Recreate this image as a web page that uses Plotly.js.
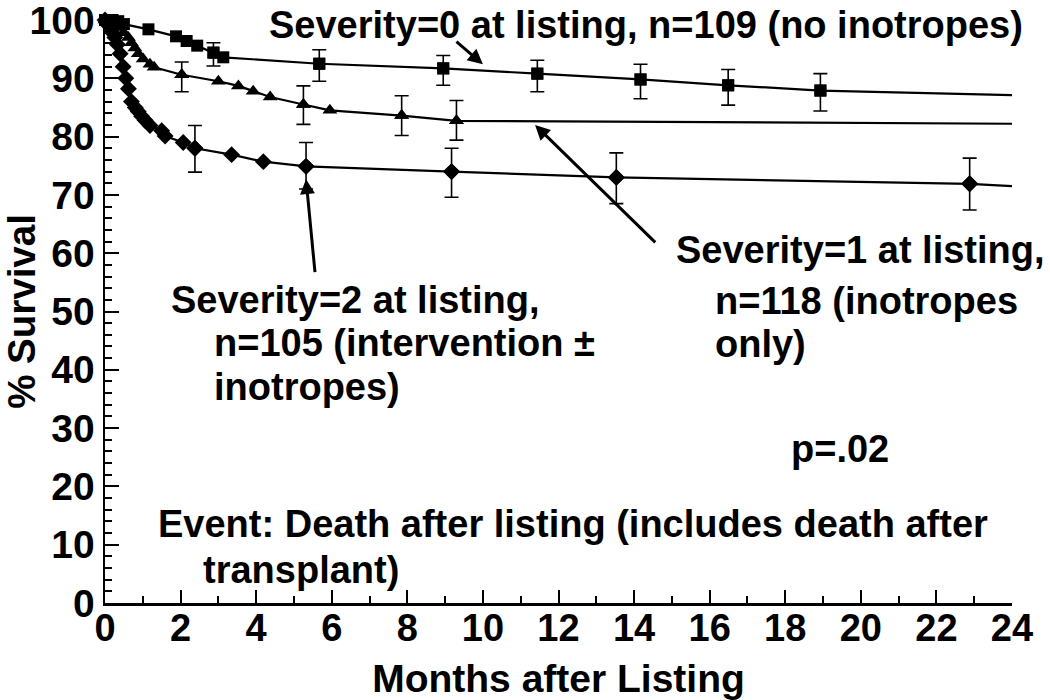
<!DOCTYPE html>
<html>
<head>
<meta charset="utf-8">
<script src="https://cdn.plot.ly/plotly-3.0.1.min.js"></script>
<style>html,body{margin:0;padding:0;background:#fff;}#chart{width:1050px;height:700px;}</style>
</head>
<body>
<div id="chart"></div>
<script>
// ---- Data (months after listing, % survival) ----
// Severity=0 (squares)
const sev0Months   = [0, 0.08, 0.2, 0.35, 0.5, 1.15, 1.88, 2.16, 2.44, 2.87, 3.13, 5.67, 8.95, 11.44, 14.17, 16.49, 18.93, 24];
const sev0Survival = [100, 100, 100, 99.8, 99.3, 98.4, 97.2, 96.4, 95.6, 94.4, 93.6, 92.5, 91.7, 90.8, 89.8, 88.8, 87.9, 87.1];
const sev0CiMonths = [2.87, 5.67, 8.95, 11.44, 14.17, 16.49, 18.93];
const sev0CiMid    = [94.4, 92.5, 91.7, 90.8, 89.8, 88.8, 87.9];
const sev0CiUpper  = [96.1, 94.9, 93.9, 93.1, 92.4, 91.5, 90.8];
const sev0CiLower  = [92.1, 89.5, 88.8, 87.7, 86.5, 85.4, 84.4];

// Severity=1 (triangles)
const sev1Months   = [0, 0.3, 0.5, 0.62, 0.70, 0.79, 0.88, 1.01, 1.19, 1.3, 2.03, 3.0, 3.53, 3.92, 4.37, 5.25, 5.95, 7.85, 9.3, 24];
const sev1Survival = [100, 98.8, 97.8, 97.0, 96.1, 95.2, 94.2, 93.3, 92.4, 91.9, 90.6, 89.5, 88.7, 87.8, 86.8, 85.5, 84.5, 83.6, 82.7, 82.2];
const sev1CiMonths = [2.03, 5.25, 7.85, 9.3];
const sev1CiMid    = [90.6, 85.5, 83.6, 82.7];
const sev1CiUpper  = [92.8, 88.7, 87.0, 86.2];
const sev1CiLower  = [87.7, 82.1, 80.2, 79.4];

// Severity=2 (diamonds)
const sev2Months   = [0, 0.1, 0.2, 0.26, 0.33, 0.4, 0.48, 0.55, 0.62, 0.7, 0.8, 0.88, 0.97, 1.06, 1.19, 1.5, 1.59, 2.07, 2.38, 3.35, 4.19, 5.32, 9.17, 13.53, 22.88, 24];
const sev2Survival = [100, 99.0, 97.8, 97.0, 95.8, 94.2, 92.0, 90.0, 88.2, 86.0, 85.0, 84.3, 83.5, 82.8, 81.9, 81.0, 80.1, 79.0, 78.0, 76.9, 75.7, 74.9, 74.0, 73.0, 71.9, 71.5];
const sev2CiMonths = [2.38, 5.32, 9.17, 13.53, 22.88];
const sev2CiMid    = [78.0, 74.9, 74.0, 73.0, 71.9];
const sev2CiUpper  = [81.9, 79.0, 78.0, 77.2, 76.3];
const sev2CiLower  = [73.9, 71.0, 69.6, 68.5, 67.4];

const xTickVals = [0, 2, 4, 6, 8, 10, 12, 14, 16, 18, 20, 22, 24];
const yTickVals = [0, 10, 20, 30, 40, 50, 60, 70, 80, 90, 100];

// ---- Build traces ----
const FONT = 'Liberation Sans, Arial, sans-serif';
function curve(xs, ys) {
  return {x: xs, y: ys, type: 'scatter', mode: 'lines', line: {color: '#000', width: 2.2},
          hoverinfo: 'skip', showlegend: false, cliponaxis: false};
}
function marks(xs, ys, symbol, size) {
  // markers at every event time except final follow-up point
  return {x: xs.slice(0, -1), y: ys.slice(0, -1), type: 'scatter', mode: 'markers',
          marker: {symbol: symbol, size: size, color: '#000'}, showlegend: false, cliponaxis: false};
}
function ci(xs, mid, up, lo, symbol, size) {
  return {x: xs, y: mid, type: 'scatter', mode: 'markers',
          marker: {symbol: symbol, size: size, color: '#000'},
          error_y: {type: 'data', symmetric: false,
                    array: up.map((u, i) => u - mid[i]),
                    arrayminus: lo.map((l, i) => mid[i] - l),
                    color: '#000', thickness: 1.6, width: 7},
          showlegend: false, cliponaxis: false};
}

const traces = [
  curve(sev0Months, sev0Survival), marks(sev0Months, sev0Survival, 'square', 12),
  ci(sev0CiMonths, sev0CiMid, sev0CiUpper, sev0CiLower, 'square', 12),
  curve(sev1Months, sev1Survival), marks(sev1Months, sev1Survival, 'triangle-up', 13),
  ci(sev1CiMonths, sev1CiMid, sev1CiUpper, sev1CiLower, 'triangle-up', 13),
  curve(sev2Months, sev2Survival), marks(sev2Months, sev2Survival, 'diamond', 13),
  ci(sev2CiMonths, sev2CiMid, sev2CiUpper, sev2CiLower, 'diamond', 13)
];

const txtFont = {family: FONT, size: 38, color: '#000', weight: 'bold'};
function label(text, x, y) {
  return {text: text, x: x, y: y, xref: 'x', yref: 'y', xanchor: 'left', yanchor: 'middle',
          showarrow: false, font: txtFont, borderpad: 0};
}
function arrow(x, y, ax, ay) {
  return {text: '', x: x, y: y, ax: ax, ay: ay, xref: 'x', yref: 'y', axref: 'x', ayref: 'y',
          showarrow: true, arrowhead: 2, arrowsize: 1, arrowwidth: 3, arrowcolor: '#000'};
}

const annotations = [
  label('Severity=0 at listing, n=109 (no inotropes)', 4.31, 99.2),
  arrow(10.0, 92.4, 9.26, 96.5),
  label('Severity=1 at listing,', 15.08, 60.6),
  label('n=118 (inotropes', 16.12, 51.8),
  label('only)', 16.12, 44.4),
  arrow(11.38, 82.0, 14.6, 61.6),
  label('Severity=2 at listing,', 1.72, 52.0),
  label('n=105 (intervention ±', 2.86, 44.6),
  label('inotropes)', 2.86, 37.0),
  arrow(5.32, 72.7, 5.56, 56.5),
  label('p=.02', 18.12, 26.4),
  label('Event: Death after listing (includes death after', 1.38, 13.5),
  label('transplant)', 2.57, 5.7)
];

const layout = {
  width: 1050, height: 700,
  margin: {l: 105, r: 38, t: 20, b: 97},
  paper_bgcolor: '#fff', plot_bgcolor: '#fff',
  showlegend: false,
  font: {family: FONT, color: '#000'},
  xaxis: {
    range: [0, 24], tickvals: xTickVals, ticks: 'inside', ticklen: 13, tickwidth: 2, tickcolor: '#000',
    minor: {dtick: 1, tick0: 0, ticks: 'inside', ticklen: 7, tickwidth: 2, tickcolor: '#000'},
    showline: true, linecolor: '#000', linewidth: 2.5, showgrid: false, zeroline: false,
    tickfont: {family: FONT, size: 38, color: '#000', weight: 'bold'},
    ticklabelstandoff: -10, ticklabeloverflow: 'allow',
    title: {text: 'Months after Listing', font: {family: FONT, size: 39, color: '#000', weight: 'bold'}, standoff: 20},
    automargin: false
  },
  yaxis: {
    range: [0, 100], tickvals: yTickVals, ticks: 'inside', ticklen: 14, tickwidth: 2, tickcolor: '#000',
    minor: {dtick: 2, tick0: 0, ticks: 'inside', ticklen: 7, tickwidth: 2, tickcolor: '#000'},
    showline: true, linecolor: '#000', linewidth: 2.5, showgrid: false, zeroline: false,
    tickfont: {family: FONT, size: 39, color: '#000', weight: 'bold'},
    ticklabeloverflow: 'allow',
    title: {text: '% Survival', font: {family: FONT, size: 38.5, color: '#000', weight: 'bold'}, standoff: 0},
    automargin: false
  },
  annotations: annotations
};

Plotly.newPlot('chart', traces, layout, {displayModeBar: false, staticPlot: true});
</script>
</body>
</html>
